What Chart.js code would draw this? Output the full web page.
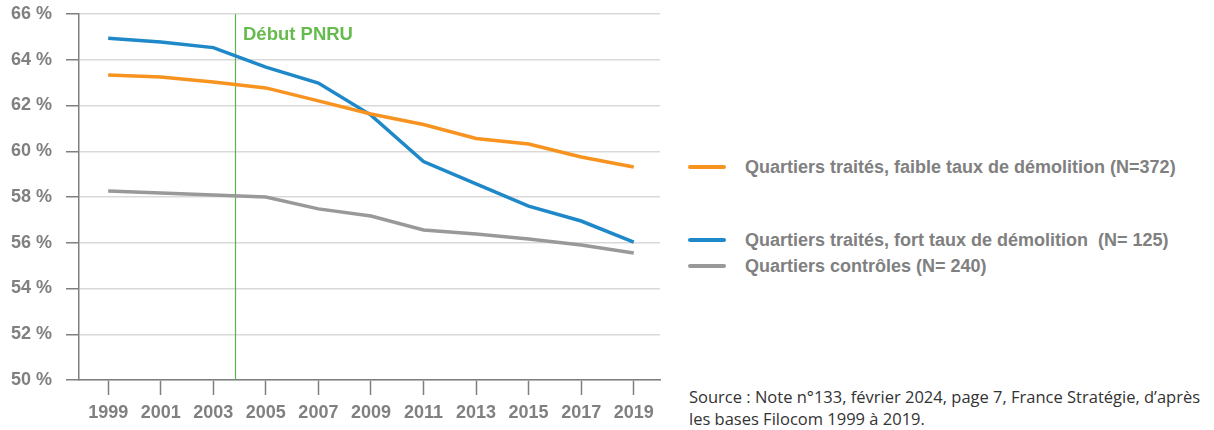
<!DOCTYPE html>
<html><head><meta charset="utf-8">
<script src="https://cdn.jsdelivr.net/npm/chart.js@4"></script>
<style>
html,body{margin:0;padding:0;background:#fff;width:1214px;height:430px;overflow:hidden;}
#wrap{position:absolute;left:0;top:0;width:680px;height:430px;}
.leg{position:absolute;left:688px;font-family:"Liberation Sans",Arial,sans-serif;font-weight:bold;font-size:18px;color:#808080;white-space:pre;}
.leg span.sw{position:absolute;left:0;top:9px;width:38px;height:4px;border-radius:2px;}
.leg span.tx{position:absolute;left:57px;top:0;line-height:22px;}
#src{position:absolute;left:689px;top:386px;font-family:"Open Sans",sans-serif;font-size:16.5px;color:#333;line-height:22px;white-space:nowrap;}
</style></head><body>
<div id="wrap"><canvas id="c" width="680" height="430"></canvas></div>
<div id="legend"></div>
<div id="src">Source : Note n°133, février 2024, page 7, France Stratégie, d’après<br>les bases Filocom 1999 à 2019.</div>
<script>
const years = [1999, 2001, 2003, 2005, 2007, 2009, 2011, 2013, 2015, 2017, 2019];
const faibleDemolition = [63.33, 63.25, 63.03, 62.77, 62.2, 61.63, 61.17, 60.56, 60.32, 59.75, 59.31];
const fortDemolition = [64.94, 64.78, 64.53, 63.68, 62.98, 61.58, 59.55, 58.57, 57.6, 56.95, 56.03];
const controles = [58.26, 58.17, 58.09, 58.0, 57.48, 57.17, 56.56, 56.38, 56.16, 55.9, 55.55];
const yTicks = [50, 52, 54, 56, 58, 60, 62, 64, 66];
const pnruYear = 2003.84;
const pnruLabel = "Début PNRU";
const seriesLabels = [
  "Quartiers traités, faible taux de démolition (N=372)",
  "Quartiers traités, fort taux de démolition  (N= 125)",
  "Quartiers contrôles (N= 240)"
];
const colors = ["#F7931E", "#1E88C8", "#999999"];
const legendTops = [156, 229, 255];

const toPts = arr => arr.map((v, i) => ({x: years[i], y: v}));

const pnruPlugin = {
  id: 'pnru',
  beforeDatasetsDraw(chart) {
    const {ctx, chartArea, scales} = chart;
    const x = Math.round(scales.x.getPixelForValue(pnruYear)) + 0.5;
    ctx.save();
    ctx.strokeStyle = '#55B848';
    ctx.lineWidth = 1.2;
    ctx.beginPath();
    ctx.moveTo(x, chartArea.top);
    ctx.lineTo(x, chartArea.bottom);
    ctx.stroke();
    ctx.fillStyle = '#66BB4E';
    ctx.font = 'bold 18.5px "Liberation Sans", Arial, sans-serif';
    ctx.textBaseline = 'middle';
    ctx.fillText(pnruLabel, x + 7.5, 35);
    ctx.restore();
  }
};

const font = {family: '"Liberation Sans", Arial, sans-serif', size: 18, weight: 'bold'};

new Chart(document.getElementById('c'), {
  type: 'line',
  data: {
    datasets: [
      {label: seriesLabels[0], data: toPts(faibleDemolition), borderColor: colors[0], borderWidth: 3.5, pointRadius: 0, tension: 0},
      {label: seriesLabels[1], data: toPts(fortDemolition), borderColor: colors[1], borderWidth: 3.5, pointRadius: 0, tension: 0},
      {label: seriesLabels[2], data: toPts(controles), borderColor: colors[2], borderWidth: 3.5, pointRadius: 0, tension: 0}
    ]
  },
  options: {
    responsive: false,
    animation: false,
    layout: {padding: {top: 14, right: 20, left: 0, bottom: 0}},
    plugins: {legend: {display: false}, tooltip: {enabled: false}},
    scales: {
      x: {
        type: 'linear',
        min: 1997.89,
        max: 2020,
        afterBuildTicks: s => { s.ticks = years.map(v => ({value: v})); },
        afterFit: s => { s.height = 50; s.paddingLeft = 0; s.paddingRight = 0; },
        grid: {drawOnChartArea: false, tickLength: 15, tickColor: '#7f7f7f', tickWidth: 1.5},
        border: {color: '#7f7f7f', width: 1.5},
        ticks: {font, color: '#808080', padding: 7, maxRotation: 0, autoSkip: false, callback: v => String(v)}
      },
      y: {
        min: 50, max: 66,
        afterBuildTicks: s => { s.ticks = yTicks.map(v => ({value: v})); },
        afterFit: s => { s.width = 79; s.paddingTop = 0; s.paddingBottom = 0; },
        grid: {color: '#d9d9d9', lineWidth: 1.5, tickLength: 13, tickColor: '#7f7f7f', tickWidth: 1.5},
        border: {color: '#7f7f7f', width: 1.5},
        ticks: {font, color: '#808080', padding: 14, callback: v => v + ' %'}
      }
    }
  },
  plugins: [pnruPlugin]
});

const leg = document.getElementById('legend');
seriesLabels.forEach((t, i) => {
  const d = document.createElement('div');
  d.className = 'leg';
  d.style.top = legendTops[i] + 'px';
  d.innerHTML = '<span class="sw" style="background:' + colors[i] + '"></span><span class="tx"></span>';
  d.querySelector('.tx').textContent = t;
  leg.appendChild(d);
});
</script>
</body></html>
